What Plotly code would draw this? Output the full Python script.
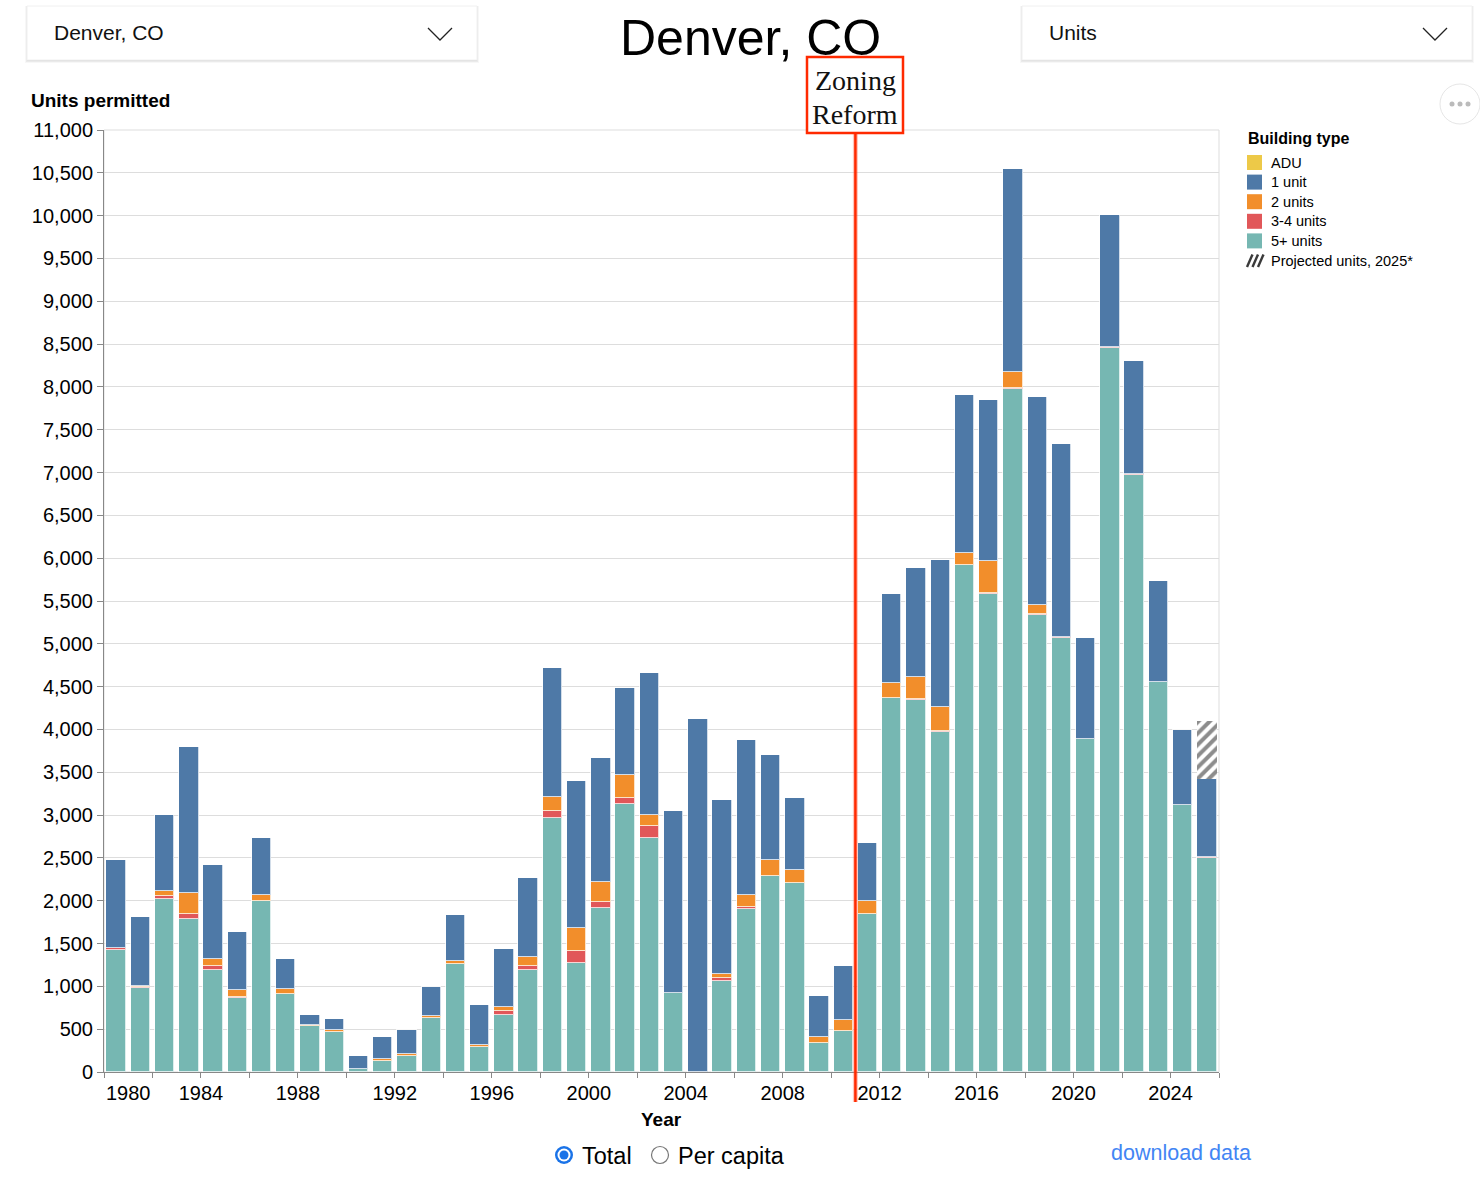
import plotly.graph_objects as go

years = list(range(1980, 2026))

five_plus = [1430, 980, 2025, 1790, 1187, 864, 1993, 915, 541, 471,
             31, 132, 187, 627, 1257, 290, 669, 1190, 2963, 1272,
             1910, 3135, 2736, 920, 0, 1061, 1898, 2290, 2211, 333,
             474, 1843, 4370, 4341, 3972, 5925, 5586, 7977, 5340, 5065,
             3893, 8455, 6970, 4556, 3121, 2495]
three_four = [15, 15, 25, 58, 47, 12, 0, 0, 0, 0,
              0, 0, 0, 0, 0, 0, 43, 51, 86, 145,
              70, 70, 137, 0, 0, 31, 23, 0, 0, 0,
              0, 0, 0, 10, 8, 0, 6, 6, 12, 10,
              0, 6, 8, 0, 0, 10]
two_units = [5, 10, 60, 245, 86, 86, 70, 50, 8, 23,
             4, 23, 23, 27, 39, 20, 51, 98, 157, 266,
             243, 262, 129, 0, 0, 51, 141, 188, 145, 70,
             129, 149, 168, 257, 285, 133, 374, 187, 105, 0,
             0, 0, 0, 0, 0, 0]
one_unit = [1022, 801, 891, 1699, 1098, 669, 670, 351, 113, 121,
            156, 250, 284, 335, 538, 477, 673, 931, 1506, 1710,
            1444, 1015, 1652, 2133, 4121, 2035, 1813, 1221, 838, 485,
            634, 682, 1047, 1276, 1708, 1848, 1882, 2369, 2430, 2262,
            1170, 1551, 1326, 1174, 874, 916]
adu = [0] * len(years)
projected_years = [2025]
projected = [683]

legend_names = ["ADU", "1 unit", "2 units", "3-4 units", "5+ units", "Projected units, 2025*"]
tick_years = list(range(1980, 2027, 2))
tick_labels = [str(y) if (y % 4 == 0 and y != 1980) else "" for y in tick_years]
y_ticks = list(range(0, 11001, 500))

reform_year = 2011

# ---- geometry helpers (pixel -> paper) ----
W_FIG, H_FIG = 1480, 1196
L, R, T, B = 104, 1219, 130, 1072
PW, PH = R - L, B - T


def fx(px):
    return (px - L) / PW


def fy(py):
    return (B - py) / PH


FONT = "Liberation Sans, Arial, Helvetica, sans-serif"
SERIF = "Liberation Serif, Times New Roman, serif"

colors = {"ADU": "#edc948", "1 unit": "#4e79a7", "2 units": "#f28e2b",
          "3-4 units": "#e15759", "5+ units": "#76b7b2"}

xc = [y + 0.5 for y in years]
fig = go.Figure()
line_style = dict(color="rgba(255,255,255,0.75)", width=1)
for name, vals in [("5+ units", five_plus), ("3-4 units", three_four),
                   ("2 units", two_units), ("1 unit", one_unit), ("ADU", adu)]:
    fig.add_trace(go.Bar(
        x=xc, y=vals, name=name, width=0.8, showlegend=False,
        marker=dict(color=colors[name],
                    line=line_style if name != "ADU" else dict(width=0))))

fig.add_trace(go.Bar(
    x=[y + 0.5 for y in projected_years], y=projected, width=0.8,
    name="Projected units, 2025*", showlegend=False,
    marker=dict(color="white", line=dict(width=0),
                pattern=dict(shape="/", fgcolor="#1a1a1a", bgcolor="white",
                             size=8, solidity=0.5))))

shapes = []
annotations = []

# plot border (view stroke)
shapes.append(dict(type="rect", xref="paper", yref="paper", x0=0, x1=1, y0=0, y1=1,
                   line=dict(color="#dddddd", width=1), layer="below"))

# dropdowns
for x0, x1, label in [(27, 477, "Denver, CO"), (1022, 1472, "Units")]:
    for off, alpha in [(3, 0.03), (2, 0.05), (1, 0.07)]:
        shapes.append(dict(type="rect", xref="paper", yref="paper",
                           x0=fx(x0 - off + 1), x1=fx(x1 + off - 1),
                           y0=fy(60 + off), y1=fy(6),
                           fillcolor=f"rgba(0,0,0,{alpha})", line=dict(width=0)))
    shapes.append(dict(type="rect", xref="paper", yref="paper",
                       x0=fx(x0), x1=fx(x1), y0=fy(60), y1=fy(6),
                       fillcolor="white", line=dict(color="#f0f0f0", width=1)))
    cx = x1 - 37
    shapes.append(dict(type="path", xref="paper", yref="paper",
                       path=f"M{fx(cx-12)},{fy(28)} L{fx(cx)},{fy(40)} L{fx(cx+12)},{fy(28)}",
                       line=dict(color="#222222", width=1.3)))
    annotations.append(dict(xref="paper", yref="paper", x=fx(x0 + 25), y=fy(33),
                            xanchor="left", yanchor="middle", text=label, showarrow=False,
                            font=dict(family=FONT, size=21, color="#111111")))

# title
annotations.append(dict(xref="paper", yref="paper", x=fx(750), y=fy(38),
                        xanchor="center", yanchor="middle", text="Denver, CO",
                        showarrow=False, font=dict(family=FONT, size=50, color="#000000")))

# "..." menu button
shapes.append(dict(type="circle", xref="paper", yref="paper",
                   x0=fx(1440), x1=fx(1480), y0=fy(124), y1=fy(84),
                   fillcolor="white", line=dict(color="#e6e6e6", width=1)))
for dx in (-8, 0, 8):
    shapes.append(dict(type="circle", xref="paper", yref="paper",
                       x0=fx(1460 + dx - 2.5), x1=fx(1460 + dx + 2.5),
                       y0=fy(106.5), y1=fy(101.5),
                       fillcolor="#bbbbbb", line=dict(width=0)))

# legend (Building type)
annotations.append(dict(xref="paper", yref="paper", x=fx(1246), y=fy(138),
                        xanchor="left", yanchor="middle", text="<b>Building type</b>",
                        showarrow=False, font=dict(family=FONT, size=16, color="#000000")))
for i, name in enumerate(legend_names):
    cy = 162.5 + i * 19.6
    if name in colors:
        shapes.append(dict(type="rect", xref="paper", yref="paper",
                           x0=fx(1247), x1=fx(1262), y0=fy(cy + 7.5), y1=fy(cy - 7.5),
                           fillcolor=colors[name], line=dict(width=0)))
    else:
        for k in range(3):
            a = 1247 + k * 5.5
            shapes.append(dict(type="line", xref="paper", yref="paper",
                               x0=fx(a), x1=fx(a + 5.5), y0=fy(cy + 6.5), y1=fy(cy - 6),
                               line=dict(color="#3a3a3a", width=2.4)))
    annotations.append(dict(xref="paper", yref="paper", x=fx(1269), y=fy(cy),
                            xanchor="left", yanchor="middle", text=name,
                            showarrow=False, font=dict(family=FONT, size=14.5, color="#000000")))

# zoning reform line and box
x_reform = fx(L + (reform_year - 1980) * PW / 46)
shapes.append(dict(type="line", xref="paper", yref="paper", x0=x_reform, x1=x_reform,
                   y0=fy(1102), y1=fy(133), line=dict(color="rgba(255,90,60,0.35)", width=5)))
shapes.append(dict(type="line", xref="paper", yref="paper", x0=x_reform, x1=x_reform,
                   y0=fy(1102), y1=fy(133), line=dict(color="#ff2a00", width=2.5)))
shapes.append(dict(type="rect", xref="paper", yref="paper",
                   x0=fx(807), x1=fx(903), y0=fy(133), y1=fy(57),
                   fillcolor="white", line=dict(color="#ff2a00", width=2.5)))
annotations.append(dict(xref="paper", yref="paper", x=fx(855), y=fy(80),
                        xanchor="center", yanchor="middle", text="Zoning", showarrow=False,
                        font=dict(family=SERIF, size=28, color="#111111")))
annotations.append(dict(xref="paper", yref="paper", x=fx(855), y=fy(114),
                        xanchor="center", yanchor="middle", text="Reform", showarrow=False,
                        font=dict(family=SERIF, size=28, color="#111111")))

# axis titles
annotations.append(dict(xref="paper", yref="paper", x=fx(29), y=fy(100),
                        xanchor="left", yanchor="middle", text="<b>Units permitted</b>",
                        showarrow=False, font=dict(family=FONT, size=19, color="#000000")))
annotations.append(dict(xref="paper", yref="paper", x=fx(661), y=fy(1119),
                        xanchor="center", yanchor="middle", text="<b>Year</b>",
                        showarrow=False, font=dict(family=FONT, size=19, color="#000000")))
# flush first x label
annotations.append(dict(xref="paper", yref="paper", x=fx(104), y=fy(1093),
                        xanchor="left", yanchor="middle", text="1980",
                        showarrow=False, font=dict(family=FONT, size=20, color="#000000")))

# radio buttons
shapes.append(dict(type="circle", xref="paper", yref="paper",
                   x0=fx(555), x1=fx(573), y0=fy(1164), y1=fy(1146),
                   fillcolor="#1a73e8", line=dict(width=0)))
shapes.append(dict(type="circle", xref="paper", yref="paper",
                   x0=fx(557.5), x1=fx(570.5), y0=fy(1161.5), y1=fy(1148.5),
                   fillcolor="white", line=dict(width=0)))
shapes.append(dict(type="circle", xref="paper", yref="paper",
                   x0=fx(559.5), x1=fx(568.5), y0=fy(1159.5), y1=fy(1150.5),
                   fillcolor="#1a73e8", line=dict(width=0)))
shapes.append(dict(type="circle", xref="paper", yref="paper",
                   x0=fx(651.5), x1=fx(668.5), y0=fy(1163.5), y1=fy(1146.5),
                   fillcolor="white", line=dict(color="#777777", width=1.2)))
annotations.append(dict(xref="paper", yref="paper", x=fx(580), y=fy(1156),
                        xanchor="left", yanchor="middle", text="Total", showarrow=False,
                        font=dict(family=FONT, size=23.5, color="#000000")))
annotations.append(dict(xref="paper", yref="paper", x=fx(676), y=fy(1156),
                        xanchor="left", yanchor="middle", text="Per capita", showarrow=False,
                        font=dict(family=FONT, size=23.5, color="#000000")))
annotations.append(dict(xref="paper", yref="paper", x=fx(1109), y=fy(1153),
                        xanchor="left", yanchor="middle", text="download data", showarrow=False,
                        font=dict(family=FONT, size=21.5, color="#4285f4")))

fig.update_layout(
    width=W_FIG, height=H_FIG,
    margin=dict(l=L, r=W_FIG - R, t=T, b=H_FIG - B, pad=0),
    barmode="stack", bargap=0,
    plot_bgcolor="white", paper_bgcolor="white",
    font=dict(family=FONT, color="#000000"),
    showlegend=False,
    shapes=shapes, annotations=annotations,
    xaxis=dict(range=[1980, 2026], tickmode="array", tickvals=tick_years, ticktext=tick_labels,
               ticks="outside", ticklen=5, tickcolor="#888888", showgrid=False,
               showline=True, linecolor="#888888", linewidth=1, zeroline=False,
               ticklabelstandoff=-2,
               tickfont=dict(family=FONT, size=20, color="#000000"), fixedrange=True),
    yaxis=dict(range=[0, 11000], tickmode="array", tickvals=y_ticks,
               ticktext=[f"{v:,}" for v in y_ticks],
               ticks="outside", ticklen=6, tickcolor="#888888",
               showgrid=True, gridcolor="#dddddd", gridwidth=1,
               showline=True, linecolor="#888888", linewidth=1, zeroline=False,
               tickfont=dict(family=FONT, size=20, color="#000000"), fixedrange=True),
)

fig.write_html("out.html", config={"displayModeBar": False},
               post_script="document.body.style.margin='0';")
